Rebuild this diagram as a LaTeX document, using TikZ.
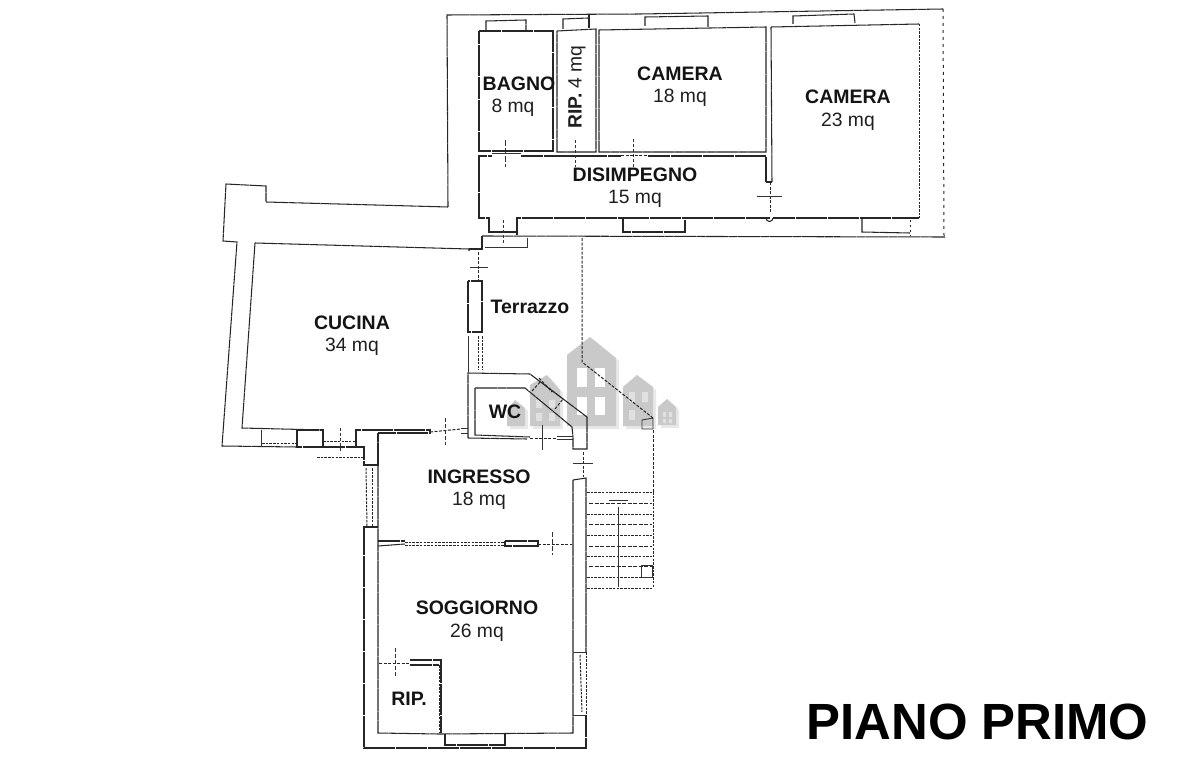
\documentclass[tikz,border=0pt]{standalone}
\usepackage{fontspec}
\setmainfont{Liberation Sans}
\tikzset{
 wall/.style={draw=black!85,line width=1.05pt,line join=miter,dash pattern=on 22pt off .5pt on 9pt off .5pt},
 thinwall/.style={draw=black!80,line width=.9pt},
 dotwall/.style={draw=black!85,line width=1pt,dash pattern=on 2.5pt off 1.2pt},
 doorline/.style={draw=black!85,line width=1pt,dash pattern=on 3pt off 1.5pt},
 tick/.style={draw=black!80,line width=.9pt},
 lab/.style={inner sep=0pt,font=\fontsize{19.3}{19.3}\selectfont,text=black!88},
 blab/.style={inner sep=0pt,font=\fontsize{19.5}{19.5}\selectfont\bfseries,text=black!92},
 house/.style={fill=black!21,draw=none},
 shade/.style={fill=black!9,draw=none},
 win/.style={fill=white,draw=none},
 win2/.style={fill=black!12,draw=none}
}
\begin{document}
\begin{tikzpicture}[x=1pt,y=-1pt]
\useasboundingbox (0,0) rectangle (1181,768);
\fill[white] (0,0) rectangle (1181,768);
% watermark shadows
\fill[shade] (510,429)--(510,413)--(518,403)--(528,411)--(528,429)--cycle;
\fill[shade] (533,429)--(533,388)--(550,378)--(563,393)--(563,429)--cycle;
\fill[shade] (570,429)--(570,358)--(593,340)--(619,361)--(619,429)--cycle;
\fill[shade] (626,429)--(626,390)--(640,378)--(656,390)--(656,429)--cycle;
\fill[shade] (661,428)--(661,410)--(670,402)--(679,410)--(679,428)--cycle;
% watermark
\fill[house] (507,426)--(507,410)--(515,400)--(525,408)--(525,426)--cycle;
\fill[house] (530,426)--(530,385)--(547,375)--(560,390)--(560,426)--cycle;
\fill[house] (567,426)--(567,355)--(590,337)--(616,358)--(616,426)--cycle;
\fill[house] (623,426)--(623,387)--(637,375)--(653,387)--(653,426)--cycle;
\fill[house] (658,425)--(658,407)--(667,399)--(676,407)--(676,425)--cycle;
\fill[win] (577,368) rectangle (587,387);
\fill[win] (595,368) rectangle (605,387);
\fill[win] (577,397) rectangle (587,415);
\fill[win] (595,397) rectangle (605,415);
\fill[win2] (536,400) rectangle (542,408) (549,400) rectangle (555,408);
\fill[win2] (536,413) rectangle (542,421) (549,413) rectangle (555,421);
\fill[win2] (629,392) rectangle (635,402) (642,392) rectangle (648,402);
\fill[win2] (629,410) rectangle (635,420);
\fill[win2] (663,412) rectangle (666,417) (669,412) rectangle (672,417);
\fill[win2] (663,419) rectangle (666,423) (669,419) rectangle (672,423);

% building shell, north wing
\draw[wall] (448,207)--(447,15)--(640,14)--(943,9);
\draw[dotwall,dash pattern=on 3pt off 4pt] (943,9)--(944,237);
\draw[wall] (482,236)--(945,237);
\draw[wall] (482,236)--(482,249)--(469,249);
% west wing shell
\draw[wall] (448,207)--(266,202)--(266,186)--(226,184)--(223,241)--(237,242)--(222,446)--(297,447);
\draw[wall] (255,243)--(469,249)--(469,251);
\draw[wall] (255,243)--(242,428)--(323,430);
% kitchen south windows
\draw[wall] (297,430) rectangle (323,447);
\draw[thinwall] (261,430)--(261,447);
\draw[dotwall] (262,443)--(297,443);
\draw[dotwall] (323,441)--(356,441);
\draw[tick,dash pattern=on 3pt off 2pt] (340,428)--(340,453);
\draw[dotwall] (317,457)--(363,457);
\draw[wall] (323,447)--(364,447)--(364,465)--(378,465)--(378,433);
\draw[wall] (356,447)--(356,430)--(430,430)--(430,433)--(378,433);
% disimpegno
\draw[wall] (479,170)--(479,218)--(489,218)--(489,232)--(517,232)--(517,218)--(766,218)--(770,218);
\draw[wall] (517,218)--(517,235);
\draw[wall] (623,218)--(623,232)--(685,232)--(685,220);
\draw[wall] (773,218)--(919,218);
\draw[wall] (479,170)--(479,156)--(492,156);
\draw[wall] (521,156)--(621,156);
\draw[wall] (648,156)--(766,156)--(766,182);
\draw[thinwall] (492,153)--(521,153);
\draw[doorline] (621,155)--(648,155);
\draw[tick,dash pattern=on 6pt off 2pt] (505,140)--(505,167);
\draw[tick,dash pattern=on 3pt off 2pt] (575,140)--(575,167);
\draw[tick,dash pattern=on 3pt off 2pt] (633,139)--(633,167);
\draw[wall] (766,182)--(772,182);
\draw[doorline] (770,182)--(770,213);
\draw[tick] (757,196)--(782,196);
\draw[wall] (766,218) arc[start angle=180,end angle=0,radius=3.5];
% rooms north wing
\draw[wall] (479,31)--(553,31)--(553,151)--(479,151)--cycle;
\draw[wall] (486,31)--(486,21)--(526,20)--(526,30);
\draw[wall] (557,31)--(596,29)--(596,152)--(557,152)--cycle;
\draw[wall] (563,29)--(563,19)--(588,18);
\draw[wall] (589,15)--(589,28);
\draw[wall] (599,30)--(766,27)--(766,152)--(599,152)--cycle;
\draw[wall] (645,26)--(645,17)--(708,16)--(708,27);
\draw[wall] (771,27)--(919,24);
\draw[dotwall] (919,24)--(919,218);
\draw[wall] (771,27)--(772,182);
\draw[wall] (793,24)--(793,16)--(854,14)--(855,23);
\draw[wall] (862,218)--(862,232)--(910,233);
\draw[dotwall,dash pattern=on 2pt off 3pt] (910,220)--(910,236);
% terrace head
\draw[thinwall] (485,247)--(527,247)--(527,238);
\draw[tick,dash pattern=on 3pt off 2pt] (503,220)--(503,245);
\draw[doorline] (478,252)--(478,281);
\draw[tick] (470,267)--(488,267);
\draw[wall] (468,281) rectangle (482,332);
\draw[thinwall] (468,336)--(468,372);
\draw[dotwall] (482,336)--(482,370);
\draw[dotwall] (478,336)--(478,370);
% terrace east
\draw[doorline] (582,238)--(582,362)--(653,418);
\draw[thinwall] (642,420)--(653,418)--(653,429)--(642,429)--cycle;
\draw[doorline] (653,430)--(653,492);
% WC
\draw[wall] (468,438)--(468,373)--(530,374)--(587,417)--(587,449)--(573,449)--(573,437);
\draw[wall] (475,388)--(525,388)--(572,427)--(573,437);
\draw[wall] (475,388)--(475,435)--(530,437);
\draw[wall] (468,438)--(527,439);
\draw[thinwall] (461,428)--(468,428) (461,433)--(468,433);
\draw[doorline] (530,438)--(557,438);
\draw[thinwall] (557,436)--(573,436) (557,439)--(573,439);
\draw[tick] (542,425)--(542,450);
\draw[doorline] (430,432)--(461,429);
\draw[tick,dash pattern=on 4pt off 2pt] (445,418)--(445,445);
\draw[doorline] (539,378)--(552,392);
\draw[doorline] (532,391)--(541,381);
\draw[doorline] (555,409)--(563,399);
\draw[doorline] (545,385)--(563,399);
% ingresso + soggiorno
\draw[wall] (378,433)--(378,733)--(439,734)--(573,733)--(573,480);
\draw[wall] (573,480)--(586,478)--(586,652);
\draw[dotwall] (586,652)--(586,715);
\draw[wall] (586,715)--(586,748)--(364,748)--(364,527)--(378,527);
\draw[thinwall] (573,652)--(586,652) (573,715)--(586,715);
\draw[dotwall] (580,655)--(582,712);
\draw[dotwall] (366,468)--(367,527);
\draw[dotwall] (372,468)--(372,527);
\draw[doorline] (583,452)--(583,477);
\draw[tick] (573,463)--(593,463);
% divider
\draw[wall] (378,541)--(405,541);
\draw[wall] (378,546)--(405,544);
\draw[dotwall] (405,542)--(505,542);
\draw[dotwall] (405,545)--(505,545);
\draw[wall] (505,541)--(538,541)--(538,546)--(505,546)--cycle;
\draw[doorline] (538,544)--(572,544);
\draw[tick,dash pattern=on 5pt off 2pt] (552,532)--(552,555);
% rip
\draw[doorline] (379,663)--(410,663);
\draw[tick,dash pattern=on 4pt off 2pt] (395,648)--(395,678);
\draw[wall] (410,660)--(441,660)--(441,733);
\draw[wall] (410,665)--(439,665);
\draw[dotwall] (439,665)--(439,733);
\draw[wall] (445,734)--(445,745)--(505,745)--(505,734);
% stairs
\foreach \yy in {492,514,535,556,577,588}{\draw[dotwall] (587,\yy)--(653,\yy);}
\foreach \yy in {503,524,546,566}{\draw[dotwall,dash pattern=on 4pt off 1.5pt] (589,\yy)--(652,\yy);}
\draw[thinwall] (618,507)--(618,587);
\draw[dotwall] (653,492)--(653,588);
\draw[thinwall] (641,565)--(652,565)--(652,577)--(641,577)--cycle;
\draw[thinwall] (609,500)--(628,500);
% labels
\node[blab] (tbagno) at (519,84) {BAGNO};
\node[lab] (mbagno) at (513,108) {8 mq};
\node[lab,rotate=90] (trip) at (577,87) {\textbf{RIP.} 4 mq};
\node[blab] (tcam) at (680,74) {CAMERA};
\node[lab] (mcam) at (680,98) {18 mq};
\node[blab] (tcamb) at (848,97) {CAMERA};
\node[lab] (mcamb) at (848,122) {23 mq};
\node[blab] (tdis) at (635,175) {DISIMPEGNO};
\node[lab] (mdis) at (635,199) {15 mq};
\node[blab] (tter) at (530,307) {Terrazzo};
\node[blab] (tcuc) at (352,323) {CUCINA};
\node[lab] (mcuc) at (352,347) {34 mq};
\node[blab] (twc) at (505,412) {WC};
\node[blab] (ting) at (479,477) {INGRESSO};
\node[lab] (ming) at (479,501) {18 mq};
\node[blab] (tsog) at (477,608) {SOGGIORNO};
\node[lab] (msog) at (477,633) {26 mq};
\node[blab] (trp) at (409,699) {RIP.};
\node[inner sep=0pt,font=\fontsize{50.9}{50.9}\selectfont\bfseries,text=black] (ttitle) at (977.5,722) {PIANO PRIMO};
\end{tikzpicture}
\end{document}
